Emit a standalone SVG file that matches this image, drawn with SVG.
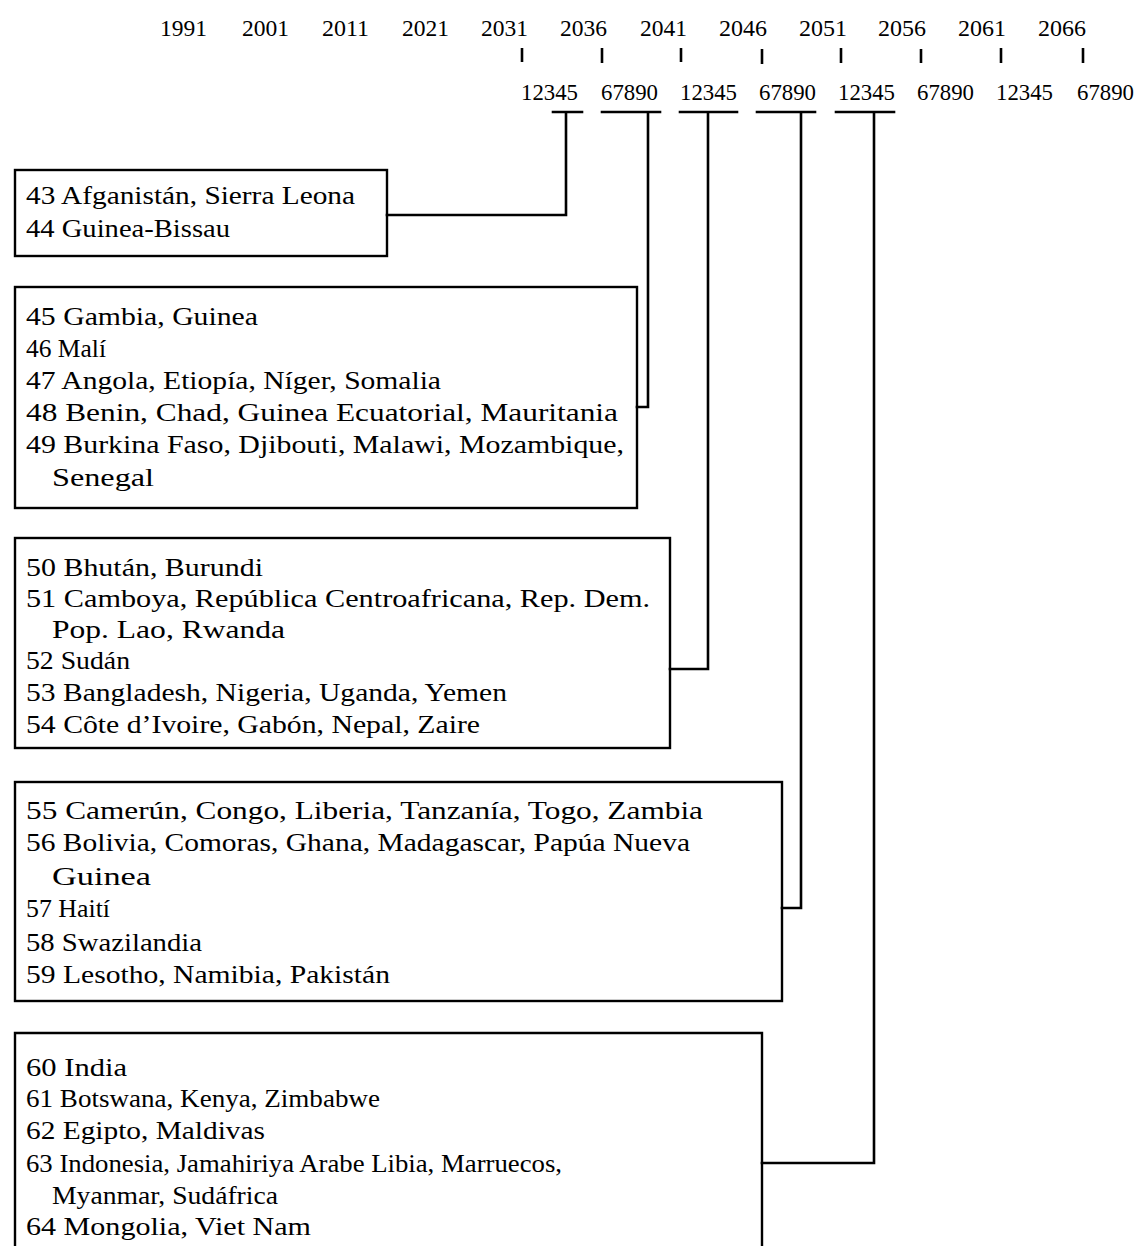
<svg xmlns="http://www.w3.org/2000/svg" width="1137" height="1246" viewBox="0 0 1137 1246">
  <style>
    .t { font-family: "Liberation Serif", "DejaVu Serif", serif; font-size: 25px; fill: #000; }
    .s { font-family: "Liberation Serif", "DejaVu Serif", serif; font-size: 24px; fill: #000; }
    .box { fill: none; stroke: #000; stroke-width: 2.4; }
    .ln { fill: none; stroke: #000; stroke-width: 2.6; stroke-linecap: square; }
    .tick { stroke: #000; stroke-width: 2.6; }
  </style>
  <rect width="1137" height="1246" fill="#fff"/>

  <!-- time scale: years -->
  <g id="scale-years">
    <text class="s" x="160" y="36" textLength="47" lengthAdjust="spacingAndGlyphs">1991</text>
    <text class="s" x="242" y="36" textLength="47" lengthAdjust="spacingAndGlyphs">2001</text>
    <text class="s" x="322" y="36" textLength="47" lengthAdjust="spacingAndGlyphs">2011</text>
    <text class="s" x="402" y="36" textLength="47" lengthAdjust="spacingAndGlyphs">2021</text>
    <text class="s" x="481" y="36" textLength="47" lengthAdjust="spacingAndGlyphs">2031</text>
    <text class="s" x="560" y="36" textLength="47" lengthAdjust="spacingAndGlyphs">2036</text>
    <text class="s" x="640" y="36" textLength="47" lengthAdjust="spacingAndGlyphs">2041</text>
    <text class="s" x="719" y="36" textLength="48" lengthAdjust="spacingAndGlyphs">2046</text>
    <text class="s" x="799" y="36" textLength="48" lengthAdjust="spacingAndGlyphs">2051</text>
    <text class="s" x="878" y="36" textLength="48" lengthAdjust="spacingAndGlyphs">2056</text>
    <text class="s" x="958" y="36" textLength="48" lengthAdjust="spacingAndGlyphs">2061</text>
    <text class="s" x="1038" y="36" textLength="48" lengthAdjust="spacingAndGlyphs">2066</text>
  </g>

  <!-- time scale: ticks -->
  <g id="scale-ticks">
    <line class="tick" x1="522" y1="48" x2="522" y2="62"/>
    <line class="tick" x1="602" y1="48" x2="602" y2="63"/>
    <line class="tick" x1="681" y1="48" x2="681" y2="62"/>
    <line class="tick" x1="762" y1="49" x2="762" y2="64"/>
    <line class="tick" x1="841" y1="48" x2="841" y2="63"/>
    <line class="tick" x1="921" y1="49" x2="921" y2="63"/>
    <line class="tick" x1="1001" y1="48" x2="1001" y2="63"/>
    <line class="tick" x1="1083" y1="48" x2="1083" y2="63"/>
  </g>

  <!-- time scale: single years -->
  <g id="scale-digits">
    <text class="s" x="521" y="100" textLength="57" lengthAdjust="spacingAndGlyphs">12345</text>
    <text class="s" x="601" y="100" textLength="57" lengthAdjust="spacingAndGlyphs">67890</text>
    <text class="s" x="680" y="100" textLength="57" lengthAdjust="spacingAndGlyphs">12345</text>
    <text class="s" x="759" y="100" textLength="57" lengthAdjust="spacingAndGlyphs">67890</text>
    <text class="s" x="838" y="100" textLength="57" lengthAdjust="spacingAndGlyphs">12345</text>
    <text class="s" x="917" y="100" textLength="57" lengthAdjust="spacingAndGlyphs">67890</text>
    <text class="s" x="996" y="100" textLength="57" lengthAdjust="spacingAndGlyphs">12345</text>
    <text class="s" x="1077" y="100" textLength="57" lengthAdjust="spacingAndGlyphs">67890</text>
  </g>

  <!-- connectors -->
  <g id="connectors">
    <path class="ln" d="M553 112 H582 M566 112 V215 H387"/>
    <path class="ln" d="M602 112 H660 M648 112 V407 H637"/>
    <path class="ln" d="M680 112 H737 M708 112 V669 H670"/>
    <path class="ln" d="M757 112 H815 M801 112 V908 H782"/>
    <path class="ln" d="M836 112 H894 M874 112 V1163 H762"/>
  </g>

  <g id="group-43-44">
    <rect class="box" x="15" y="170" width="372" height="86"/>
    <text class="t" x="26" y="204" textLength="329" lengthAdjust="spacingAndGlyphs">43 Afganistán, Sierra Leona</text>
    <text class="t" x="26" y="237" textLength="204" lengthAdjust="spacingAndGlyphs">44 Guinea-Bissau</text>
  </g>

  <g id="group-45-49">
    <rect class="box" x="15" y="287" width="622" height="221"/>
    <text class="t" x="26" y="325" textLength="232" lengthAdjust="spacingAndGlyphs">45 Gambia, Guinea</text>
    <text class="t" x="26" y="357" textLength="80" lengthAdjust="spacingAndGlyphs">46 Malí</text>
    <text class="t" x="26" y="389" textLength="415" lengthAdjust="spacingAndGlyphs">47 Angola, Etiopía, Níger, Somalia</text>
    <text class="t" x="26" y="421" textLength="592" lengthAdjust="spacingAndGlyphs">48 Benin, Chad, Guinea Ecuatorial, Mauritania</text>
    <text class="t" x="26" y="453" textLength="598" lengthAdjust="spacingAndGlyphs">49 Burkina Faso, Djibouti, Malawi, Mozambique,</text>
    <text class="t" x="52" y="486" textLength="102" lengthAdjust="spacingAndGlyphs">Senegal</text>
  </g>

  <g id="group-50-54">
    <rect class="box" x="15" y="538" width="655" height="210"/>
    <text class="t" x="26" y="576" textLength="237" lengthAdjust="spacingAndGlyphs">50 Bhután, Burundi</text>
    <text class="t" x="26" y="607" textLength="624" lengthAdjust="spacingAndGlyphs">51 Camboya, República Centroafricana, Rep. Dem.</text>
    <text class="t" x="52" y="638" textLength="233" lengthAdjust="spacingAndGlyphs">Pop. Lao, Rwanda</text>
    <text class="t" x="26" y="669" textLength="104" lengthAdjust="spacingAndGlyphs">52 Sudán</text>
    <text class="t" x="26" y="701" textLength="481" lengthAdjust="spacingAndGlyphs">53 Bangladesh, Nigeria, Uganda, Yemen</text>
    <text class="t" x="26" y="733" textLength="454" lengthAdjust="spacingAndGlyphs">54 Côte d’Ivoire, Gabón, Nepal, Zaire</text>
  </g>

  <g id="group-55-59">
    <rect class="box" x="15" y="782" width="767" height="219"/>
    <text class="t" x="26" y="819" textLength="677" lengthAdjust="spacingAndGlyphs">55 Camerún, Congo, Liberia, Tanzanía, Togo, Zambia</text>
    <text class="t" x="26" y="851" textLength="664" lengthAdjust="spacingAndGlyphs">56 Bolivia, Comoras, Ghana, Madagascar, Papúa Nueva</text>
    <text class="t" x="52" y="885" textLength="99" lengthAdjust="spacingAndGlyphs">Guinea</text>
    <text class="t" x="26" y="917" textLength="84" lengthAdjust="spacingAndGlyphs">57 Haití</text>
    <text class="t" x="26" y="951" textLength="176" lengthAdjust="spacingAndGlyphs">58 Swazilandia</text>
    <text class="t" x="26" y="983" textLength="364" lengthAdjust="spacingAndGlyphs">59 Lesotho, Namibia, Pakistán</text>
  </g>

  <g id="group-60-64">
    <path class="box" d="M15 1250 V1033 H762 V1250"/>
    <text class="t" x="26" y="1076" textLength="101" lengthAdjust="spacingAndGlyphs">60 India</text>
    <text class="t" x="26" y="1107" textLength="354" lengthAdjust="spacingAndGlyphs">61 Botswana, Kenya, Zimbabwe</text>
    <text class="t" x="26" y="1139" textLength="239" lengthAdjust="spacingAndGlyphs">62 Egipto, Maldivas</text>
    <text class="t" x="26" y="1172" textLength="536" lengthAdjust="spacingAndGlyphs">63 Indonesia, Jamahiriya Arabe Libia, Marruecos,</text>
    <text class="t" x="52" y="1204" textLength="226" lengthAdjust="spacingAndGlyphs">Myanmar, Sudáfrica</text>
    <text class="t" x="26" y="1235" textLength="285" lengthAdjust="spacingAndGlyphs">64 Mongolia, Viet Nam</text>
  </g>
</svg>
